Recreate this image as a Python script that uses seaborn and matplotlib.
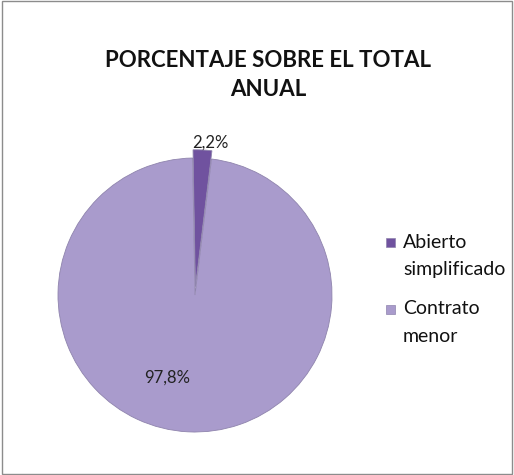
import matplotlib
matplotlib.use("Agg")
import matplotlib.pyplot as plt
import seaborn as sns
import numpy as np
from matplotlib.patches import Rectangle

# datos
categorias = ["Abierto\nsimplificado", "Contrato\nmenor"]
porcentajes = [2.2, 97.8]
etiquetas = ["2,2%", "97,8%"]
titulo = "PORCENTAJE SOBRE EL TOTAL\nANUAL"

sns.set_theme(style="white")
plt.rcParams['font.family'] = ['Lato', 'DejaVu Sans']

colores = ["#70529f", "#a99bcc"]
W, H = 514, 475

fig = plt.figure(figsize=(W / 100, H / 100), dpi=100)
# pie: centro (195, 295) px, radio 137 px
cx, cy, r = 195, 295, 137
ax = fig.add_axes([(cx - r) / W, 1 - (cy + r) / H, 2 * r / W, 2 * r / H])

wedges, _ = ax.pie(porcentajes, colors=colores, startangle=91, counterclock=False,
                   explode=[0.06, 0], wedgeprops=dict(edgecolor="#8f84ad", linewidth=0.6))
ax.set_xlim(-1, 1)
ax.set_ylim(-1, 1)
ax.set_aspect("equal")
ax.axis("off")

# etiquetas de porcentaje
posiciones = [(0.11, 1.11), (-0.2, -0.6)]
for txt, (x, y) in zip(etiquetas, posiciones):
    ax.text(x, y, txt, ha="center", va="center", fontsize=12, color="#222222")

fig.text(268 / W, 1 - 75 / H, titulo, ha="center", va="center", fontsize=16,
         fontweight="bold", color="#111111", linespacing=1.5)

# leyenda a mano: marcador alineado con la primera línea
for i, (cat, col) in enumerate(zip(categorias, colores)):
    y0 = 242 + i * 67
    fig.patches.append(Rectangle((386 / W, 1 - (y0 + 4.5) / H), 9 / W, 9 / H,
                                 transform=fig.transFigure, facecolor=col,
                                 edgecolor="#8f84ad", linewidth=0.5))
    for j, linea in enumerate(cat.split("\n")):
        fig.text(403 / W, 1 - (y0 + j * 27) / H, linea, ha="left", va="center",
                 fontsize=14, color="#111111")

fig.patches.append(Rectangle((0.003, 0.003), 0.994, 0.994, transform=fig.transFigure,
                             fill=False, edgecolor="#8c8c8c", linewidth=1))

fig.savefig("out.png", dpi=100)
